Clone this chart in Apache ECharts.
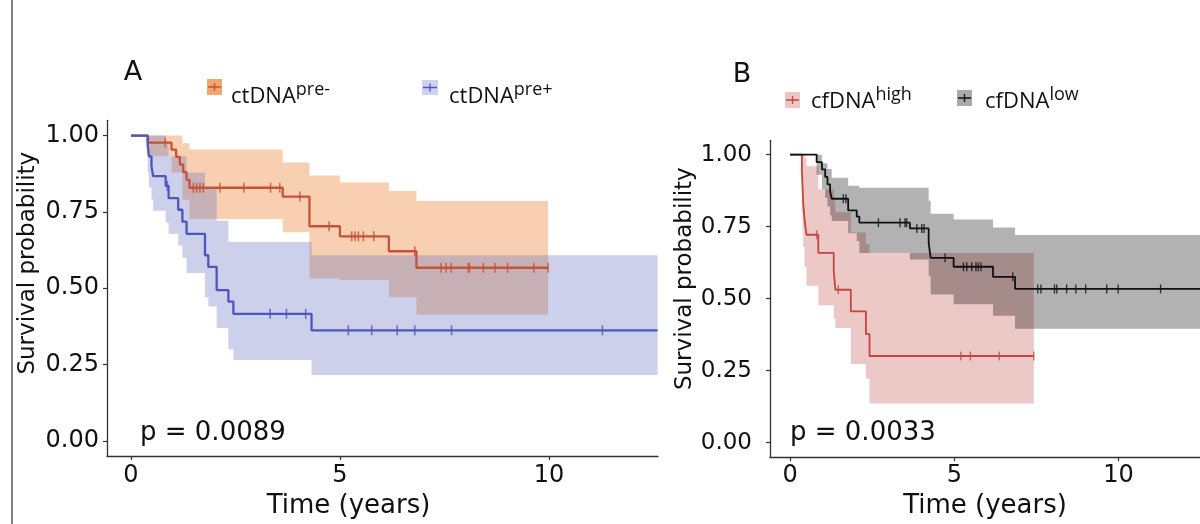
<!DOCTYPE html>
<html><head><meta charset="utf-8">
<script src="https://cdn.jsdelivr.net/npm/echarts@6/dist/echarts.min.js"></script>
<style>html,body{margin:0;padding:0;background:#fff}#c{width:1200px;height:524px}</style>
</head><body><div id="c"></div>
<script>
// ---------- tick labels ----------
const xTicks = [0, 5, 10];
const xTickLabels = ['0', '5', '10'];
const yTicks = [0, 0.25, 0.5, 0.75, 1];
const yTickLabels = ['0.00', '0.25', '0.50', '0.75', '1.00'];

// ---------- Panel A: ctDNA pre- ----------
const preNegTimes = [0, 0.40, 0.97, 1.08, 1.17, 1.25, 1.33, 1.40, 3.63, 4.27, 5.00, 6.17, 6.83, 9.98];
const preNegSurv  = [1, 0.977, 0.954, 0.930, 0.905, 0.880, 0.855, 0.829, 0.800, 0.703, 0.670, 0.621, 0.567, 0.567];
const preNegCensor = [0.82, 1.49, 1.57, 1.65, 1.73, 2.13, 2.70, 3.34, 3.56, 4.04, 4.74, 5.28, 5.36, 5.44, 5.56, 5.81, 6.79, 7.42, 7.54, 7.66, 8.07, 8.10, 8.43, 8.71, 9.01, 9.64, 9.98];
const preNegBandT  = [0, 0.40, 0.97, 1.23, 1.40, 3.63, 4.27, 5.00, 6.17, 6.83, 9.98];
const preNegUpper  = [1, 1, 1, 0.975, 0.954, 0.912, 0.869, 0.846, 0.818, 0.786];
const preNegLower  = [1, 0.932, 0.878, 0.790, 0.727, 0.683, 0.532, 0.527, 0.470, 0.413];

// ---------- Panel A: ctDNA pre+ ----------
const prePosTimes = [0, 0.40, 0.43, 0.49, 0.53, 0.83, 0.90, 1.13, 1.23, 1.33, 1.77, 1.85, 2.05, 2.33, 2.45, 4.32, 12.60];
const prePosSurv  = [1, 0.966, 0.932, 0.900, 0.867, 0.835, 0.795, 0.757, 0.718, 0.678, 0.608, 0.570, 0.494, 0.456, 0.416, 0.362, 0.362];
const prePosCensor = [0.87, 3.33, 3.72, 4.18, 5.20, 5.76, 6.37, 6.79, 7.67, 11.28];
const prePosBandT  = [0, 0.40, 0.43, 0.49, 0.53, 0.83, 0.90, 1.13, 1.23, 1.33, 1.77, 1.85, 2.05, 2.33, 2.45, 4.32, 12.60];
const prePosUpper  = [1, 1, 1, 1, 1, 0.98, 0.932, 0.932, 0.932, 0.878, 0.829, 0.829, 0.721, 0.651, 0.651, 0.608];
const prePosLower  = [1, 0.88, 0.83, 0.79, 0.754, 0.715, 0.678, 0.64, 0.60, 0.55, 0.47, 0.44, 0.37, 0.30, 0.265, 0.216];

// ---------- Panel B: cfDNA high ----------
const highTimes = [0, 0.36, 0.38, 0.40, 0.44, 0.50, 0.86, 1.33, 1.38, 1.85, 2.31, 2.42, 7.42];
const highSurv  = [1, 0.944, 0.889, 0.833, 0.778, 0.722, 0.659, 0.597, 0.531, 0.456, 0.377, 0.301, 0.301];
const highCensor = [0.81, 1.47, 5.20, 5.49, 6.37, 7.42];
const highBandT  = [0, 0.36, 0.38, 0.40, 0.44, 0.50, 0.86, 1.33, 1.38, 1.85, 2.31, 2.42, 7.42];
const highUpper  = [1, 1, 1, 1, 0.99, 0.96, 0.88, 0.84, 0.80, 0.73, 0.69, 0.659];
const highLower  = [1, 0.80, 0.74, 0.68, 0.61, 0.545, 0.477, 0.43, 0.398, 0.273, 0.222, 0.136];

// ---------- Panel B: cfDNA low ----------
const lowTimes = [0, 0.81, 0.97, 1.07, 1.14, 1.22, 1.27, 1.77, 2.03, 2.11, 3.65, 4.22, 4.28, 4.98, 6.18, 6.85, 12.60];
const lowSurv  = [1, 0.974, 0.949, 0.923, 0.897, 0.872, 0.847, 0.807, 0.785, 0.764, 0.744, 0.694, 0.642, 0.611, 0.576, 0.534, 0.534];
const lowCensor = [1.62, 1.70, 2.69, 3.35, 3.50, 3.55, 3.86, 4.01, 4.08, 4.72, 5.28, 5.38, 5.53, 5.66, 5.73, 5.81, 6.78, 7.54, 7.64, 8.05, 8.12, 8.42, 8.70, 9.00, 9.64, 9.99, 11.28];
const lowBandT  = [0, 0.81, 0.97, 1.07, 1.14, 1.22, 1.27, 1.77, 2.03, 2.11, 3.65, 4.22, 4.28, 4.98, 6.18, 6.85, 12.60];
const lowUpper  = [1, 1.0, 0.97, 0.97, 0.95, 0.95, 0.92, 0.892, 0.892, 0.885, 0.885, 0.84, 0.795, 0.775, 0.747, 0.721];
const lowLower  = [1, 0.93, 0.88, 0.85, 0.82, 0.79, 0.77, 0.727, 0.70, 0.659, 0.636, 0.58, 0.515, 0.481, 0.441, 0.396];

const pValues = ['p = 0.0089', 'p = 0.0033'];
const panelLetters = ['A', 'B'];

// ---------- helpers ----------
const FONT = 'DejaVu Sans';
const xRangeA = [-0.574, 12.61];
const xRangeB = [-0.61, 12.48];

function survAt(times, surv, t) {
  let v = surv[0];
  for (let i = 0; i < times.length; i++) { if (times[i] <= t + 1e-9) v = surv[i]; }
  return v;
}
function pairs(times, surv) { return times.map((t, i) => [t, surv[i]]); }

function bandSeries(name, T, U, L, color, idx, xMax) {
  return {
    type: 'custom', name: name, xAxisIndex: idx, yAxisIndex: idx, silent: true, clip: true, z: 1,
    data: [[T[0], L[0]]],
    renderItem: function (params, api) {
      const c = (t) => Math.min(t, xMax);
      const pts = [];
      for (let i = 0; i < U.length; i++) { pts.push(api.coord([c(T[i]), U[i]])); pts.push(api.coord([c(T[i + 1]), U[i]])); }
      for (let i = L.length - 1; i >= 0; i--) { pts.push(api.coord([c(T[i + 1]), L[i]])); pts.push(api.coord([c(T[i]), L[i]])); }
      return { type: 'polygon', shape: { points: pts }, style: { fill: color } };
    }
  };
}
function lineSeries(name, times, surv, color, width, idx) {
  return { type: 'line', name: name, xAxisIndex: idx, yAxisIndex: idx, step: 'end', data: pairs(times, surv),
    showSymbol: false, symbol: 'none', z: 3, silent: true, lineStyle: { color: color, width: width }, itemStyle: { color: color } };
}
function censorSeries(name, times, surv, cens, color, size, idx) {
  return { type: 'scatter', name: name, xAxisIndex: idx, yAxisIndex: idx, z: 4, silent: true,
    data: cens.map(t => [t, survAt(times, surv, t)]), symbol: 'rect', symbolSize: size,
    itemStyle: { color: color } };
}
function xAxisCfg(idx, range, margin, nameGap, namePad) {
  return { type: 'value', gridIndex: idx, min: range[0], max: range[1],
    axisLine: { show: true, onZero: false, lineStyle: { color: '#333', width: 1.3 } },
    axisTick: { show: true, customValues: xTicks, length: 4, lineStyle: { color: '#333', width: 1.2 } },
    axisLabel: { customValues: xTicks, fontSize: 24, color: '#111', fontFamily: FONT, margin: margin,
      formatter: v => xTickLabels[xTicks.indexOf(v)] },
    splitLine: { show: false },
    name: 'Time (years)', nameLocation: 'middle', nameGap: nameGap,
    nameTextStyle: { fontSize: 26, color: '#111', fontFamily: FONT, padding: namePad } };
}
function yAxisCfg(idx, margin, fs, nameGap, namePad) {
  return { type: 'value', gridIndex: idx, min: -0.05, max: 1.05,
    axisLine: { show: true, onZero: false, lineStyle: { color: '#333', width: 1.3 } },
    axisTick: { show: true, customValues: yTicks, length: 4, lineStyle: { color: '#333', width: 1.2 } },
    axisLabel: { customValues: yTicks, fontSize: fs, color: '#111', fontFamily: FONT, margin: margin,
      formatter: v => yTickLabels[yTicks.indexOf(v)] },
    splitLine: { show: false },
    name: 'Survival probability', nameLocation: 'middle', nameGap: nameGap,
    nameTextStyle: { fontSize: 23, color: '#111', fontFamily: FONT, padding: namePad } };
}
function legendKey(x, y, w, h, fill, stroke) {
  return [
    { type: 'rect', shape: { x: x, y: y, width: w, height: h }, style: { fill: fill } },
    { type: 'line', shape: { x1: x + 1, y1: y + h / 2, x2: x + w - 1, y2: y + h / 2 }, style: { stroke: stroke, lineWidth: 1.5 } },
    { type: 'line', shape: { x1: x + w / 2, y1: y + h / 2 - 4, x2: x + w / 2, y2: y + h / 2 + 4 }, style: { stroke: stroke, lineWidth: 1.3 } }
  ];
}
function legendText(x, y, main, sup, supLH) {
  return { type: 'text', x: x, y: y, style: {
    text: '{m|' + main + '}{s|' + sup + '}', textAlign: 'left', textVerticalAlign: 'middle',
    rich: {
      m: { fontFamily: 'Open Sans', fontSize: 22, lineHeight: 32, fill: '#111', color: '#111' },
      s: { fontFamily: 'Open Sans', fontSize: 18, lineHeight: supLH, verticalAlign: 'top', fill: '#111', color: '#111' }
    } } };
}

const colors = {
  orangeLine: '#c5533a', orangeBand: 'rgba(237,135,57,0.40)', orangeKey: '#f2a56c',
  blueLine: '#4f55c0', blueBand: 'rgba(112,121,195,0.35)', blueKey: '#cfd2ee',
  redLine: '#c4463f', redBand: 'rgba(192,72,65,0.30)', redKey: '#ecc6c2',
  blackLine: '#111111', grayBand: 'rgba(0,0,0,0.30)', grayKey: '#a9a9a9'
};

const chart = echarts.init(document.getElementById('c'), null, { renderer: 'canvas' });
chart.setOption({
  backgroundColor: '#ffffff',
  animation: false,
  grid: [
    { left: 107, right: 542, top: 120.3, bottom: 64.7 },
    { left: 770, right: 0, top: 140.3, bottom: 61 }
  ],
  xAxis: [ xAxisCfg(0, xRangeA, 8, 30, [0, 68, 0, 0]), xAxisCfg(1, xRangeB, 7, 26, 0) ],
  yAxis: [ yAxisCfg(0, 8, 24, 67, [0, 0, 0, 50]), yAxisCfg(1, 18, 23, 73, [0, 0, 0, 40]) ],
  series: [
    bandSeries('ctDNA pre- CI', preNegBandT, preNegUpper, preNegLower, colors.orangeBand, 0, xRangeA[1]),
    bandSeries('ctDNA pre+ CI', prePosBandT, prePosUpper, prePosLower, colors.blueBand, 0, xRangeA[1]),
    lineSeries('ctDNA pre-', preNegTimes, preNegSurv, colors.orangeLine, 2.3, 0),
    lineSeries('ctDNA pre+', prePosTimes, prePosSurv, colors.blueLine, 2.3, 0),
    censorSeries('ctDNA pre- censored', preNegTimes, preNegSurv, preNegCensor, colors.orangeLine, [1.6, 10], 0),
    censorSeries('ctDNA pre+ censored', prePosTimes, prePosSurv, prePosCensor, colors.blueLine, [1.6, 10], 0),

    bandSeries('cfDNA high CI', highBandT, highUpper, highLower, colors.redBand, 1, xRangeB[1]),
    bandSeries('cfDNA low CI', lowBandT, lowUpper, lowLower, colors.grayBand, 1, xRangeB[1]),
    lineSeries('cfDNA high', highTimes, highSurv, colors.redLine, 1.8, 1),
    lineSeries('cfDNA low', lowTimes, lowSurv, colors.blackLine, 1.8, 1),
    censorSeries('cfDNA high censored', highTimes, highSurv, highCensor, colors.redLine, [1.4, 9], 1),
    censorSeries('cfDNA low censored', lowTimes, lowSurv, lowCensor, colors.blackLine, [1.4, 9], 1)
  ],
  graphic: [
    { type: 'line', shape: { x1: 12, y1: 0, x2: 12, y2: 524 }, style: { stroke: '#5a5a5a', lineWidth: 1.5 } },
    { type: 'text', x: 133, y: 73, style: { text: panelLetters[0], font: '27px "DejaVu Sans"', fill: '#111', textAlign: 'center', textVerticalAlign: 'middle' } },
    { type: 'text', x: 742, y: 75, style: { text: panelLetters[1], font: '27px "DejaVu Sans"', fill: '#111', textAlign: 'center', textVerticalAlign: 'middle' } },
    ...legendKey(207, 79, 15, 16, colors.orangeKey, colors.orangeLine),
    legendText(231, 97, 'ctDNA', 'pre-', 12),
    ...legendKey(422, 80, 16, 15, colors.blueKey, colors.blueLine),
    legendText(449, 97, 'ctDNA', 'pre+', 12),
    ...legendKey(785, 92, 15, 16, colors.redKey, colors.redLine),
    legendText(811, 102, 'cfDNA', 'high', 8),
    ...legendKey(957, 90, 15, 16, colors.grayKey, colors.blackLine),
    legendText(985, 102, 'cfDNA', 'low', 8),
    { type: 'text', x: 140, y: 433, style: { text: pValues[0], font: '26px "DejaVu Sans"', fill: '#111', textAlign: 'left', textVerticalAlign: 'middle' } },
    { type: 'text', x: 790, y: 433, style: { text: pValues[1], font: '26px "DejaVu Sans"', fill: '#111', textAlign: 'left', textVerticalAlign: 'middle' } }
  ]
});
</script></body></html>
